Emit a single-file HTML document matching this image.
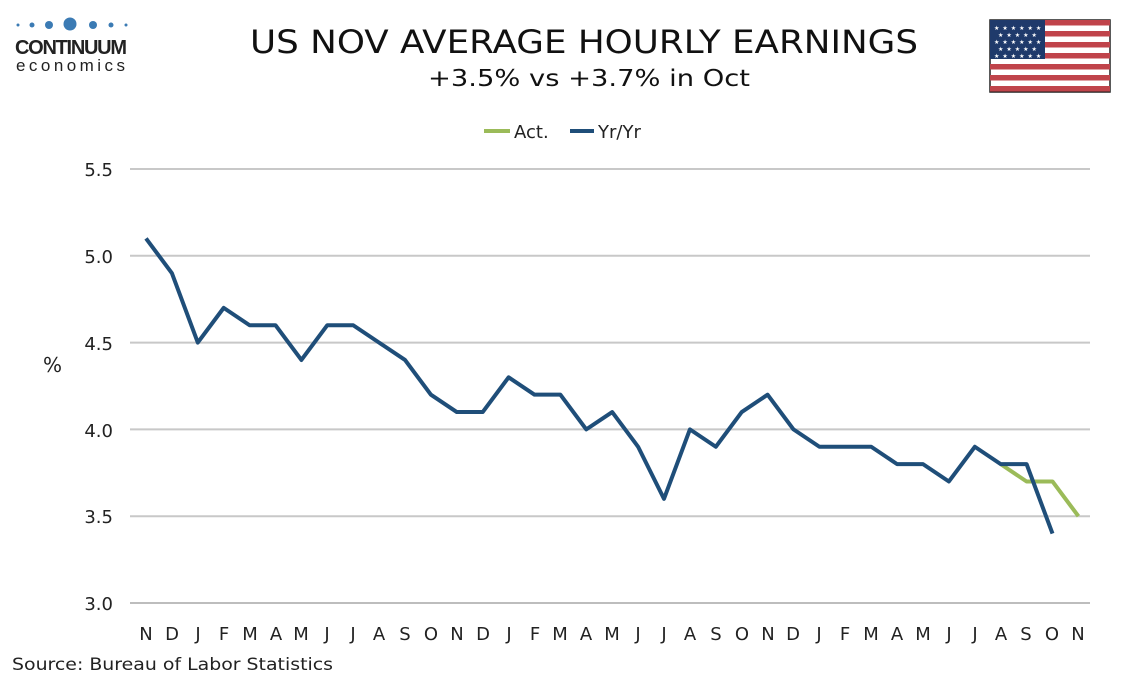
<!DOCTYPE html>
<html><head><meta charset="utf-8"><style>
body{margin:0;background:#fff;width:1134px;height:680px;overflow:hidden;font-family:"DejaVu Sans","Liberation Sans",sans-serif}
</style></head><body>
<svg width="1134" height="680" xmlns="http://www.w3.org/2000/svg" font-family="DejaVu Sans, Liberation Sans, sans-serif">
<g fill="#3b7bb4">
<circle cx="18" cy="25" r="1.5"/><circle cx="32" cy="25" r="2.5"/><circle cx="49" cy="25" r="4"/><circle cx="70" cy="24" r="6.5"/><circle cx="93" cy="25" r="4"/><circle cx="111" cy="25" r="2.5"/><circle cx="126" cy="25" r="1.5"/>
</g>
<text x="15" y="54" font-size="20" font-weight="bold" fill="#222" font-family="Liberation Sans, sans-serif" textLength="112">CONTINUUM</text>
<text x="16" y="71" font-size="17" fill="#222" font-family="Liberation Sans, sans-serif" letter-spacing="2" textLength="111">economics</text>
<text x="250" y="53" font-size="32" fill="#111" textLength="668" lengthAdjust="spacingAndGlyphs">US NOV AVERAGE HOURLY EARNINGS</text>
<text x="428" y="86" font-size="23" fill="#111" textLength="322" lengthAdjust="spacingAndGlyphs">+3.5% vs +3.7% in Oct</text>
<g>
<rect x="990" y="20" width="120" height="72" fill="#fff" stroke="#222" stroke-width="1.5"/>
<g fill="#c0444b">
<rect x="990" y="20" width="120" height="5.5"/><rect x="990" y="31" width="120" height="5.5"/><rect x="990" y="42" width="120" height="5.5"/><rect x="990" y="53" width="120" height="5.5"/><rect x="990" y="64" width="120" height="5.5"/><rect x="990" y="75" width="120" height="5.5"/><rect x="990" y="86" width="120" height="5.5"/>
</g>
<rect x="990" y="20" width="55" height="39" fill="#1f3a6b"/>
<g fill="#fff" font-size="6"><text x="994" y="30" letter-spacing="3">★★★★★★</text><text x="998" y="37" letter-spacing="3">★★★★★</text><text x="994" y="44" letter-spacing="3">★★★★★★</text><text x="998" y="51" letter-spacing="3">★★★★★</text><text x="994" y="58" letter-spacing="3">★★★★★★</text></g>
</g>
<line x1="484" y1="131" x2="510" y2="131" stroke="#9bbb59" stroke-width="4"/>
<text x="514" y="138" font-size="18" fill="#222">Act.</text>
<line x1="570" y1="131" x2="594" y2="131" stroke="#1f4e79" stroke-width="4"/>
<text x="598" y="138" font-size="18" fill="#222">Yr/Yr</text>
<g stroke="#c8c8c8" stroke-width="2">
<line x1="130" y1="169" x2="1090" y2="169"/><line x1="130" y1="255.8" x2="1090" y2="255.8"/><line x1="130" y1="342.6" x2="1090" y2="342.6"/><line x1="130" y1="429.4" x2="1090" y2="429.4"/><line x1="130" y1="516.2" x2="1090" y2="516.2"/>
</g>
<line x1="130" y1="603" x2="1090" y2="603" stroke="#bdbdbd" stroke-width="2"/>
<g font-size="18" fill="#222" text-anchor="end">
<text x="113" y="176">5.5</text><text x="113" y="263">5.0</text><text x="113" y="350">4.5</text><text x="113" y="437">4.0</text><text x="113" y="523">3.5</text><text x="113" y="610">3.0</text>
</g>
<text x="43" y="372" font-size="20" fill="#222">%</text>
<g font-size="18" fill="#222" text-anchor="middle">
<text x="146" y="640">N</text><text x="172" y="640">D</text><text x="198" y="640">J</text><text x="224" y="640">F</text><text x="250" y="640">M</text><text x="276" y="640">A</text><text x="301" y="640">M</text><text x="327" y="640">J</text><text x="353" y="640">J</text><text x="379" y="640">A</text><text x="405" y="640">S</text><text x="431" y="640">O</text><text x="457" y="640">N</text><text x="483" y="640">D</text><text x="509" y="640">J</text><text x="535" y="640">F</text><text x="560" y="640">M</text><text x="586" y="640">A</text><text x="612" y="640">M</text><text x="638" y="640">J</text><text x="664" y="640">J</text><text x="690" y="640">A</text><text x="716" y="640">S</text><text x="742" y="640">O</text><text x="768" y="640">N</text><text x="793" y="640">D</text><text x="819" y="640">J</text><text x="845" y="640">F</text><text x="871" y="640">M</text><text x="897" y="640">A</text><text x="923" y="640">M</text><text x="949" y="640">J</text><text x="975" y="640">J</text><text x="1001" y="640">A</text><text x="1026" y="640">S</text><text x="1052" y="640">O</text><text x="1078" y="640">N</text>
</g>
<g transform="translate(146,603) scale(25.9,-173.6)" fill="none" stroke-linejoin="round">
<polyline vector-effect="non-scaling-stroke" stroke="#9bbb59" stroke-width="4" points="33,0.8 34,0.7 35,0.7 36,0.5"/>
<polyline vector-effect="non-scaling-stroke" stroke="#1f4e79" stroke-width="4" points="0,2.1 1,1.9 2,1.5 3,1.7 4,1.6 5,1.6 6,1.4 7,1.6 8,1.6 9,1.5 10,1.4 11,1.2 12,1.1 13,1.1 14,1.3 15,1.2 16,1.2 17,1.0 18,1.1 19,0.9 20,0.6 21,1.0 22,0.9 23,1.1 24,1.2 25,1.0 26,0.9 27,0.9 28,0.9 29,0.8 30,0.8 31,0.7 32,0.9 33,0.8 34,0.8 35,0.4"/>
</g>
<text x="12" y="670" font-size="17" fill="#222" textLength="321" lengthAdjust="spacingAndGlyphs">Source: Bureau of Labor Statistics</text>
</svg>
</body></html>
